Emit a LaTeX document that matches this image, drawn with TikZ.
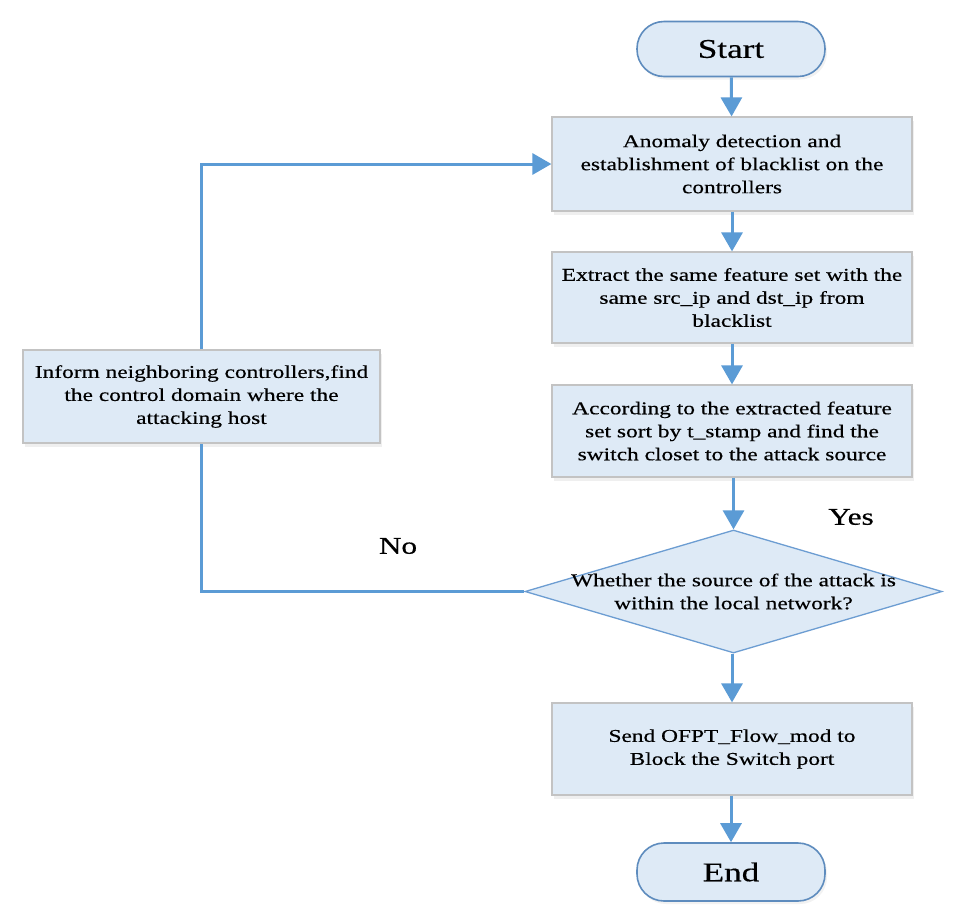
\documentclass[tikz,border=0pt]{standalone}
\usepackage{fontspec}
\setmainfont{Liberation Serif}[FakeStretch=1.3,FakeBold=0.4]
\usetikzlibrary{arrows.meta,shapes.geometric,shadows}
\definecolor{boxfill}{HTML}{DEEAF6}
\definecolor{boxline}{HTML}{C3C3C3}
\definecolor{termline}{HTML}{5E8CBE}
\definecolor{diamline}{HTML}{6C9DD2}
\definecolor{conn}{HTML}{5B9BD5}
\tikzset{
  procbox/.style={draw=boxline, line width=1.2pt, fill=boxfill, minimum width=360pt,
    minimum height=92pt, inner sep=0pt, align=center,
    font=\fontsize{18}{23}\selectfont,
    drop shadow={opacity=0.12, shadow xshift=2pt, shadow yshift=-4pt}},
  termbox/.style={draw=termline, line width=1.6pt, fill=boxfill, minimum width=188pt,
    minimum height=55pt, rounded corners=27pt, inner sep=0pt,
    font=\fontsize{27}{30}\selectfont,
    drop shadow={opacity=0.10, shadow xshift=2pt, shadow yshift=-3pt}},
  decbox/.style={draw=diamline, line width=1.3pt, fill=boxfill, shape=diamond,
    minimum width=417pt, minimum height=123pt, inner sep=0pt},
  labeltxt/.style={font=\fontsize{24}{28}\selectfont},
  flow/.style={draw=conn, line width=3pt, -{Triangle[width=21pt,length=19pt]}},
  flowline/.style={draw=conn, line width=3pt}
}
\begin{document}
\begin{tikzpicture}[x=1pt,y=-1pt]
\useasboundingbox[fill=white] (0,0) rectangle (976,922);
\node[termbox] (start) at (731,49) {Start};
\node[procbox, minimum height=94pt] (a1) at (732,164) {Anomaly detection and\\establishment of blacklist on the\\controllers};
\node[procbox, minimum height=91pt] (a2) at (732,297.5) {Extract the same feature set with the\\same src\_ip and dst\_ip from\\blacklist};
\node[procbox] (a3) at (732,431) {According to the extracted feature\\set sort by t\_stamp and find the\\switch closet to the attack source};
\node[decbox] (dec) at (733.5,591.5) {};
\node[align=center, font=\fontsize{18}{23}\selectfont] (dectxt) at (733.5,591.5) {Whether the source of the attack is\\within the local network?};
\node[procbox] (a4) at (732,749) {Send OFPT\_Flow\_mod to\\Block the Switch port};
\node[termbox, minimum height=58pt] (end) at (731,872) {End};
\node[procbox, minimum width=357pt, minimum height=93pt] (inform) at (201.5,396.5) {Inform neighboring controllers,find\\the control domain where the\\attacking host};
\node[labeltxt] (yes) at (851,517) {Yes};
\node[labeltxt] (no) at (398,546) {No};

\draw[flow] (start) -- (a1);
\draw[flow] (a1) -- (a2);
\draw[flow] (a2) -- (a3);
\draw[flow] (a3.south -| dec.north) -- (dec.north);
\draw[flow] (dec.south -| a4.north) -- (a4);
\draw[flow] (a4.south -| end.north) -- (end);
\draw[flowline] (dec.west) -| (inform.south);
\draw[flow] (inform.north) |- (a1.west);
\end{tikzpicture}
\end{document}
